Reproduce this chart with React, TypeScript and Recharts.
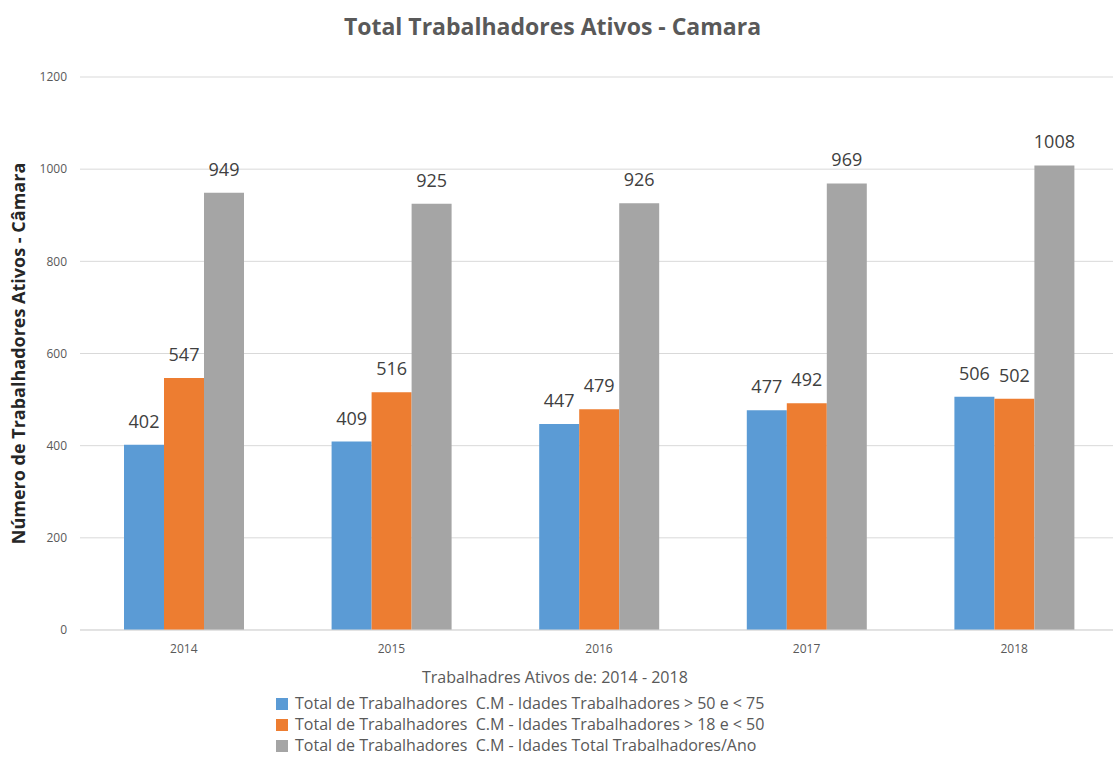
import React from 'react';
import { BarChart, Bar, XAxis, YAxis, CartesianGrid, Legend, LabelList } from 'recharts';

const years = ['2014', '2015', '2016', '2017', '2018'];
const idades50a75 = [402, 409, 447, 477, 506];
const idades18a50 = [547, 516, 479, 492, 502];
const totalAno = [949, 925, 926, 969, 1008];
const yTicks = [0, 200, 400, 600, 800, 1000, 1200];

const seriesNames = [
  'Total de Trabalhadores  C.M - Idades Trabalhadores > 50 e < 75',
  'Total de Trabalhadores  C.M - Idades Trabalhadores > 18 e < 50',
  'Total de Trabalhadores  C.M - Idades Total Trabalhadores/Ano',
];
const colors = ['#5B9BD5', '#ED7D31', '#A5A5A5'];

const data = years.map((year, i) => ({
  year,
  a: idades50a75[i],
  b: idades18a50[i],
  c: totalAno[i],
}));

const FONT = '"Open Sans", sans-serif';

const LegendBox = () => (
  <div style={{ fontFamily: FONT, color: '#595959', fontSize: 16, lineHeight: '21px' }}>
    <div style={{ fontSize: 16, marginLeft: 146, marginBottom: 5 }}>Trabalhadres Ativos de: 2014 - 2018</div>
    {seriesNames.map((name, i) => (
      <div key={i} style={{ display: 'flex', alignItems: 'center', whiteSpace: 'pre' }}>
        <span style={{ width: 12, height: 12, background: colors[i], display: 'inline-block', marginRight: 7 }} />
        {name}
      </div>
    ))}
  </div>
);

const YLabel = (props: any) => {
  const vb = props.viewBox || {};
  const cy = vb.y + vb.height / 2;
  return (
    <text
      x={18}
      y={cy}
      transform={`rotate(-90, 18, ${cy})`}
      textAnchor="middle"
      dominantBaseline="central"
      fontFamily={FONT}
      fontWeight={700}
      fontSize={18}
      fill="#262626"
    >
      Número de Trabalhadores Ativos - Câmara
    </text>
  );
};

const App: React.FC = () => {
  return (
    <div style={{ position: 'absolute', left: 0, top: 0, width: 1113, height: 757, overflow: 'hidden', background: '#fff' }}>
      <div
        style={{
          position: 'absolute',
          top: 10,
          left: 0,
          width: 1105,
          textAlign: 'center',
          fontFamily: FONT,
          fontWeight: 700,
          fontSize: 23,
          color: '#595959',
        }}
      >
        Total Trabalhadores Ativos - Camara
      </div>
      <BarChart
        width={1118}
        height={757}
        data={data}
        margin={{ top: 77, right: 0, left: 0, bottom: 97 }}
        barCategoryGap={44}
        barGap={0}
      >
        <CartesianGrid vertical={false} stroke="#D9D9D9" />
        <XAxis
          dataKey="year"
          height={30}
          tickLine={false}
          axisLine={{ stroke: '#D9D9D9' }}
          tickMargin={8}
          tick={{ fill: '#595959', fontSize: 12, fontFamily: FONT }}
        />
        <YAxis
          width={80}
          domain={[0, 1200]}
          ticks={yTicks}
          axisLine={false}
          tickLine={false}
          tickMargin={7}
          tick={{ fill: '#595959', fontSize: 12, fontFamily: FONT }}
          label={<YLabel />}
        />
        <Legend
          layout="vertical"
          verticalAlign="middle"
          align="center"
          content={<LegendBox />}
          wrapperStyle={{ top: 667, left: 276, width: 'auto', height: 'auto' }}
        />
        <Bar dataKey="a" fill={colors[0]} isAnimationActive={false}>
          <LabelList dataKey="a" position="top" offset={17} fill="#404040" fontSize={18} fontFamily={FONT} />
        </Bar>
        <Bar dataKey="b" fill={colors[1]} isAnimationActive={false}>
          <LabelList dataKey="b" position="top" offset={17} fill="#404040" fontSize={18} fontFamily={FONT} />
        </Bar>
        <Bar dataKey="c" fill={colors[2]} isAnimationActive={false}>
          <LabelList dataKey="c" position="top" offset={17} fill="#404040" fontSize={18} fontFamily={FONT} />
        </Bar>
      </BarChart>
    </div>
  );
};

export default App;
